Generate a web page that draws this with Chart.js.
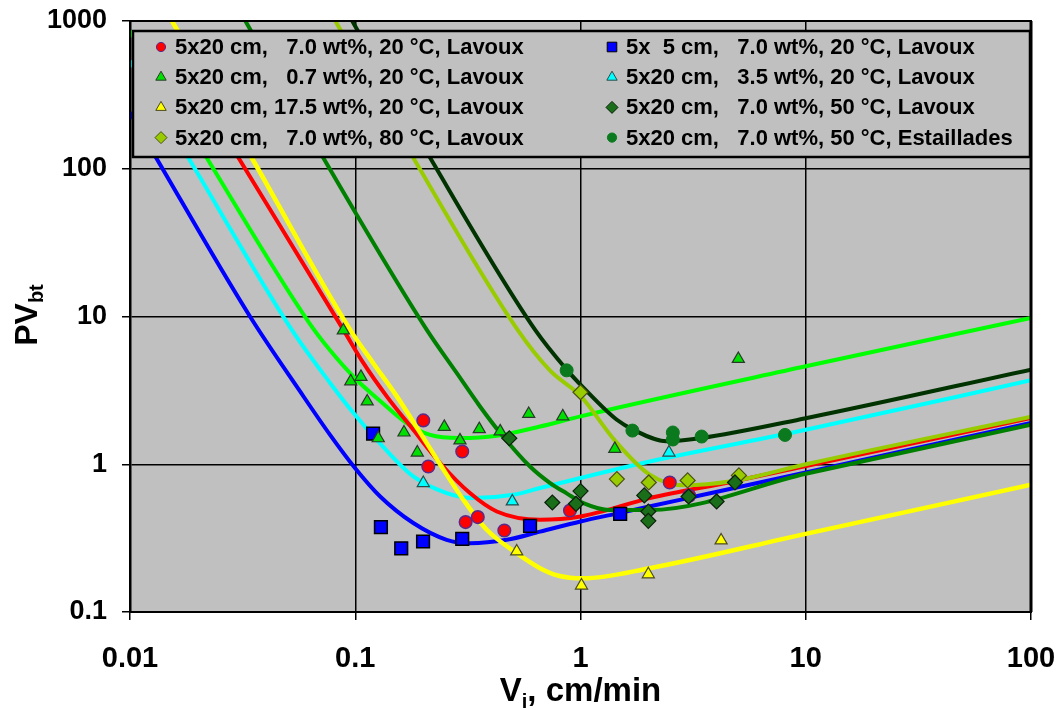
<!DOCTYPE html>
<html lang="en">
<head>
    <meta charset="UTF-8">
    <script src="https://cdn.jsdelivr.net/npm/chart.js"></script>
    <title>PVbt vs Vi</title>
    <style>
        body { margin: 0; background: #fff; }
        #wrap { width: 1059px; height: 710px; }
    </style>
</head>
<body>
<div id="wrap"><canvas id="chart" width="1059" height="710"></canvas></div>

<script>
    // axis ticks
    const xTicks = [0.01, 0.1, 1, 10, 100];
    const yTicks = [0.1, 1, 10, 100, 1000];

    // legend texts, column by column
    const seriesLabels = [
        '5x20 cm,   7.0 wt%, 20 °C, Lavoux',
        '5x20 cm,   0.7 wt%, 20 °C, Lavoux',
        '5x20 cm, 17.5 wt%, 20 °C, Lavoux',
        '5x20 cm,   7.0 wt%, 80 °C, Lavoux',
        '5x  5 cm,   7.0 wt%, 20 °C, Lavoux',
        '5x20 cm,   3.5 wt%, 20 °C, Lavoux',
        '5x20 cm,   7.0 wt%, 50 °C, Lavoux',
        '5x20 cm,   7.0 wt%, 50 °C, Estaillades'
    ];

    // measured points [Vi, PVbt]
    const ptsRed = [[0.2005, 1.98], [0.2985, 1.22], [0.211, 0.966], [0.309, 0.406], [0.35, 0.439], [0.459, 0.356], [0.898, 0.486], [2.49, 0.753], [3.04, 0.612]];
    const ptsGreen = [[0.0885, 8.06], [0.0955, 3.64], [0.106, 3.9], [0.113, 2.66], [0.1265, 1.5], [0.1646, 1.64], [0.1886, 1.2], [0.2485, 1.79], [0.2917, 1.45], [0.3553, 1.73], [0.44, 1.67], [0.589, 2.19], [0.834, 2.11], [1.42, 1.27], [5.02, 5.16]];
    const ptsYellow = [[0.521, 0.257], [1.01, 0.151], [2.0, 0.18], [4.21, 0.305]];
    const ptsYG = [[1.0, 3.07], [1.45, 0.794], [2.01, 0.753], [2.99, 0.777], [5.05, 0.84]];
    const ptsBlue = [[0.12, 1.61], [0.13, 0.375], [0.16, 0.27], [0.2, 0.30], [0.2985, 0.313], [0.597, 0.383], [1.5, 0.462]];
    const ptsCyan = [[0.2005, 0.746], [0.498, 0.56], [2.47, 1.2]];
    const ptsDG = [[0.483, 1.5], [0.75, 0.551], [0.955, 0.54], [1.0, 0.658], [1.92, 0.615], [2.0, 0.479], [2.0, 0.414], [3.02, 0.605], [4.02, 0.56], [4.85, 0.753]];
    const ptsEst = [[0.868, 4.32], [1.70, 1.69], [2.57, 1.64], [2.57, 1.47], [3.45, 1.54], [8.09, 1.58]];

    // model curves
    const curveBlue = [[0.01, 240], [0.0132, 115.6], [0.0341, 10], [0.0569, 3.11], [0.0773, 1.58], [0.0997, 0.943], [0.129, 0.605], [0.181, 0.40], [0.2545, 0.308], [0.323, 0.292], [0.47, 0.308], [0.661, 0.35], [1.0, 0.41], [1.5, 0.469], [3, 0.59], [10, 0.88], [100, 1.9]];
    const curveCyan = [[0.01, 536], [0.01815, 118.7], [0.0522, 8.15], [0.0773, 3.55], [0.0997, 2.16], [0.129, 1.38], [0.181, 0.827], [0.2545, 0.638], [0.334, 0.59], [0.503, 0.621], [0.661, 0.69], [2.03, 1.044], [10, 1.71], [100, 3.70]];
    const curveGreen = [[0.01, 856], [0.0219, 118.7], [0.062, 9.2], [0.0773, 5.9], [0.0997, 3.82], [0.129, 2.68], [0.169, 1.90], [0.215, 1.58], [0.2917, 1.505], [0.425, 1.56], [0.661, 1.80], [1, 2.11], [10, 4.60], [100, 9.78]];
    const curveRed = [[0.014, 820], [0.0303, 118.7], [0.0885, 8.15], [0.1086, 4.85], [0.138, 2.88], [0.181, 1.71], [0.238, 1.02], [0.323, 0.638], [0.425, 0.479], [0.661, 0.421], [1, 0.443], [2.03, 0.59], [4.76, 0.765], [100, 2.06]];
    const curveYellow = [[0.0148, 1100], [0.0347, 118.7], [0.0948, 8.15], [0.12, 4.85], [0.153, 2.88], [0.1905, 1.71], [0.238, 1.0], [0.302, 0.575], [0.3835, 0.36], [0.521, 0.25], [0.661, 0.198], [0.8, 0.176], [1.03, 0.169], [2.03, 0.198], [10, 0.338], [100, 0.726]];
    const curveDG = [[0.0314, 1100], [0.0721, 118.7], [0.2075, 8.15], [0.282, 4.15], [0.358, 2.46], [0.44, 1.63], [0.597, 0.966], [0.733, 0.746], [0.868, 0.635], [1.03, 0.546], [1.35, 0.49], [2.03, 0.49], [10, 0.862], [100, 1.85]];
    const curveYG = [[0.0788, 1100], [0.181, 118.7], [0.525, 8.15], [0.733, 4.3], [1.0, 2.9], [1.42, 1.45], [2.03, 0.85], [2.86, 0.72], [4.76, 0.77], [10, 1.0], [100, 2.1]];
    const curveEst = [[0.0936, 1100], [0.215, 118.7], [0.628, 8.15], [0.868, 4.37], [1.03, 3.3], [1.45, 2.0], [1.72, 1.71], [2.41, 1.43], [3.39, 1.5], [10, 2.05], [100, 4.37]];

    const FONT = '"Liberation Sans", Arial, sans-serif';
    const toXY = arr => arr.map(p => ({ x: p[0], y: p[1] }));

    function curve(data, color, width, order) {
        return {
            data: toXY(data),
            showLine: true,
            borderColor: color,
            borderWidth: width,
            pointRadius: 0,
            cubicInterpolationMode: 'monotone',
            clip: 0,
            order: order
        };
    }

    function marks(data, label, style, radius, fill, stroke, bw, order) {
        return {
            data: toXY(data),
            label: label,
            showLine: false,
            pointStyle: style,
            pointRadius: radius,
            pointBackgroundColor: fill,
            pointBorderColor: stroke,
            pointBorderWidth: bw,
            backgroundColor: fill,
            borderColor: stroke,
            order: order
        };
    }

    // marker sets in legend order (left column, then right column)
    const markerSets = [
        marks(ptsRed, seriesLabels[0], 'circle', 6.3, '#ff0000', '#5a2a8a', 1.5, 6),
        marks(ptsGreen, seriesLabels[1], 'triangle', 7, '#00e000', '#2a3a2a', 1.2, 7),
        marks(ptsYellow, seriesLabels[2], 'triangle', 7, '#ffff00', '#4a4a20', 1.2, 5),
        marks(ptsYG, seriesLabels[3], 'rectRot', 7.5, '#99cc00', '#4a5010', 1.2, 4),
        marks(ptsBlue, seriesLabels[4], 'rect', 9, '#0000ff', '#000000', 1.5, 9),
        marks(ptsCyan, seriesLabels[5], 'triangle', 7, '#00ffff', '#2a4a4a', 1.2, 8),
        marks(ptsDG, seriesLabels[6], 'rectRot', 7.5, '#1a6e1a', '#0a200a', 1.2, 3),
        marks(ptsEst, seriesLabels[7], 'circle', 6.5, '#0b7a1e', '#0b7a1e', 1, 2)
    ];
    const legendRadius = { circle: 4.6, triangle: 6, rect: 6.8, rectRot: 6 };

    const curveSets = [
        curve(curveBlue, '#0000ff', 4, 20),
        curve(curveCyan, '#00ffff', 4, 19),
        curve(curveGreen, '#00ff00', 4, 18),
        curve(curveRed, '#ff0000', 4, 17),
        curve(curveYellow, '#ffff00', 4.5, 16),
        curve(curveDG, '#008000', 4, 15),
        curve(curveYG, '#99cc00', 4, 14),
        curve(curveEst, '#003300', 4, 13)
    ];

    // grey plot area
    const plotBg = {
        id: 'plotBg',
        beforeDraw(chart) {
            const { ctx, chartArea: a } = chart;
            ctx.save();
            ctx.fillStyle = '#ffffff';
            ctx.fillRect(0, 0, chart.width, chart.height);
            ctx.fillStyle = '#c0c0c0';
            ctx.fillRect(a.left, a.top, a.right - a.left, a.bottom - a.top);
            ctx.restore();
        }
    };

    // legend box sitting inside the plot
    const boxLegend = {
        id: 'boxLegend',
        afterDatasetsDraw(chart) {
            const { ctx, chartArea: a } = chart;
            const bx = a.left + 3, by = a.top + 10, bw = a.right - a.left - 4, bh = 126;
            ctx.save();
            ctx.fillStyle = '#c0c0c0';
            ctx.fillRect(bx, by, bw, bh);
            ctx.lineWidth = 2.5;
            ctx.strokeStyle = '#000';
            ctx.strokeRect(bx, by, bw, bh);
            ctx.font = 'bold 22px ' + FONT;
            ctx.textBaseline = 'middle';
            markerSets.forEach((ds, i) => {
                const col = Math.floor(i / 4), row = i % 4;
                const mx = bx + (col ? 479 : 28);
                const my = by + 16 + row * 30.2;
                ctx.fillStyle = ds.pointBackgroundColor;
                ctx.strokeStyle = ds.pointBorderColor;
                ctx.lineWidth = 1;
                Chart.helpers.drawPoint(ctx, { pointStyle: ds.pointStyle, radius: legendRadius[ds.pointStyle], borderWidth: 1, rotation: 0 }, mx, my);
                ctx.fillStyle = '#000';
                ctx.fillText(ds.label, mx + 14, my + 1);
            });
            ctx.restore();
        }
    };

    // frame and axis titles with subscripts
    const frameTitles = {
        id: 'frameTitles',
        afterDraw(chart) {
            const { ctx, chartArea: a } = chart;
            ctx.save();
            ctx.strokeStyle = '#000';
            ctx.lineWidth = 2;
            ctx.strokeRect(a.left, a.top, a.right - a.left, a.bottom - a.top);
            ctx.lineWidth = 3;
            ctx.beginPath();
            ctx.moveTo(a.right, a.top);
            ctx.lineTo(a.right, a.bottom);
            ctx.stroke();

            ctx.fillStyle = '#000';
            ctx.textBaseline = 'alphabetic';
            ctx.textAlign = 'left';

            // x title: V_i, cm/min
            const big = 'bold 33px ' + FONT, small = 'bold 20px ' + FONT;
            ctx.font = big;
            const wV = ctx.measureText('V').width;
            const wRest = ctx.measureText(', cm/min').width;
            ctx.font = small;
            const wi = ctx.measureText('i').width;
            let x0 = (a.left + a.right) / 2 - (wV + wi + wRest) / 2;
            const yb = 701;
            ctx.font = big;
            ctx.fillText('V', x0, yb);
            ctx.font = small;
            ctx.fillText('i', x0 + wV, yb + 7);
            ctx.font = big;
            ctx.fillText(', cm/min', x0 + wV + wi, yb);

            // y title: PV_bt
            ctx.translate(37, 315);
            ctx.rotate(-Math.PI / 2);
            const bigY = 'bold 32px ' + FONT, smallY = 'bold 20px ' + FONT;
            ctx.font = bigY;
            const wPV = ctx.measureText('PV').width;
            ctx.font = smallY;
            const wbt = ctx.measureText('bt').width;
            const s = -(wPV + wbt) / 2;
            ctx.font = bigY;
            ctx.fillText('PV', s, 0);
            ctx.font = smallY;
            ctx.fillText('bt', s + wPV, 6);
            ctx.restore();
        }
    };

    new Chart(document.getElementById('chart'), {
        type: 'scatter',
        data: { datasets: markerSets.concat(curveSets) },
        options: {
            responsive: false,
            animation: false,
            devicePixelRatio: 1,
            events: [],
            layout: { padding: { left: 0, right: 28, top: 21, bottom: 0 } },
            plugins: { legend: { display: false }, tooltip: { enabled: false } },
            scales: {
                x: {
                    type: 'logarithmic',
                    min: 0.01,
                    max: 100,
                    afterBuildTicks: scale => { scale.ticks = xTicks.map(v => ({ value: v })); },
                    afterFit: scale => {
                        scale.height = 98;
                        scale.paddingLeft = 0;
                        scale.paddingRight = 0;
                    },
                    ticks: {
                        autoSkip: false,
                        maxRotation: 0,
                        padding: 22,
                        color: '#000',
                        font: { family: FONT, size: 29, weight: 'bold' },
                        callback: v => String(v)
                    },
                    grid: { color: '#000', lineWidth: 1.5, tickLength: 8, tickColor: '#000', tickWidth: 1.5 },
                    border: { color: '#000', width: 2 }
                },
                y: {
                    type: 'logarithmic',
                    min: 0.1,
                    max: 1000,
                    afterBuildTicks: scale => { scale.ticks = yTicks.map(v => ({ value: v })); },
                    afterFit: scale => {
                        scale.width = 130;
                        scale.paddingTop = 0;
                        scale.paddingBottom = 0;
                    },
                    ticks: {
                        autoSkip: false,
                        padding: 15,
                        color: '#000',
                        font: { family: FONT, size: 27, weight: 'bold' },
                        callback: v => String(v)
                    },
                    grid: { color: '#000', lineWidth: 1.5, tickLength: 8, tickColor: '#000', tickWidth: 1.5 },
                    border: { color: '#000', width: 2.5 }
                }
            }
        },
        plugins: [plotBg, boxLegend, frameTitles]
    });
</script>
</body>
</html>
